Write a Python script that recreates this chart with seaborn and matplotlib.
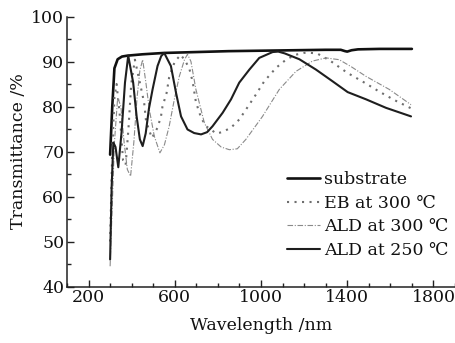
import matplotlib
matplotlib.use("Agg")
import matplotlib.pyplot as plt
import seaborn as sns
import pandas as pd
from matplotlib.ticker import MultipleLocator

# ---- data ----
sub_wl = [300, 310, 320, 335, 355, 380, 450, 550, 700, 850, 1000, 1150, 1300,
          1370, 1390, 1400, 1420, 1450, 1550, 1700]
sub_T = [69.3, 80, 88.5, 90.5, 91.1, 91.3, 91.6, 91.9, 92.1, 92.3, 92.4, 92.5, 92.6,
         92.6, 92.3, 92.2, 92.5, 92.7, 92.8, 92.8]

eb_wl = [300, 310, 320, 330, 345, 360, 372, 385, 398, 415, 438, 458, 466, 477, 494,
         520, 536, 543, 562, 574, 600, 628, 650, 667, 683, 698, 722, 745, 768, 791,
         820, 861, 899, 930, 977, 1015, 1070, 1116, 1160, 1209, 1260, 1320, 1400,
         1480, 1549, 1620, 1696]
eb_T = [50, 70, 82, 85, 78, 68, 67, 75, 85, 90.4, 85.3, 80.8, 77.1, 75.3, 73,
        75.3, 77.8, 80, 83, 86.5, 90, 91.5, 90, 88.5, 85.5, 81, 77.5, 75.6, 74.9, 74,
        74.3, 75.3, 77.1, 79.3, 82.7, 85.6, 88.6, 90.4, 91.5, 92, 91.8, 90.2, 87.5,
        85.3, 83.3, 81.4, 79.6]

a300_wl = [300, 310, 320, 335, 350, 365, 380, 395, 410, 425, 438, 451, 466, 482, 505,
           531, 552, 574, 598, 621, 645, 659, 675, 698, 737, 775, 815, 853, 890, 930,
           1007, 1085, 1162, 1239, 1302, 1363, 1420, 1487, 1595, 1696]
a300_T = [44.5, 58, 72, 82, 80, 72, 66, 64.5, 72, 82, 88, 90.4, 85.3, 79.3, 73.4,
          69.7, 71.5, 75.6, 81.6, 86.7, 90.4, 91.6, 90, 83.8, 76.4, 72.7, 71, 70.4,
          70.6, 72.7, 77.8, 83.8, 87.8, 90.1, 90.8, 90.4, 88.8, 86.7, 83.8, 80.4]

a250_wl = [300, 307, 315, 325, 338, 353, 369, 384, 407, 423, 438, 451, 465, 480, 497,
           520, 537, 551, 582, 606, 629, 659, 690, 722, 750, 775, 822, 861, 899, 946,
           992, 1054, 1080, 1110, 1178, 1255, 1332, 1402, 1487, 1580, 1696]
a250_T = [46, 62, 72, 71, 66.5, 74.2, 85.3, 91.3, 85.3, 77.8, 72.7, 71.2, 74, 79.5, 83.8,
          89, 91.2, 91.9, 89, 83, 77.8, 74.9, 74.1, 73.8, 74.3, 75.6, 78.6, 81.6, 85.3, 88.2,
          90.8, 92.1, 92.2, 91.8, 90.5, 88.2, 85.6, 83.2, 81.6, 79.7, 77.8]

labels = ["substrate", "EB at 300 \u2103", "ALD at 300 \u2103", "ALD at 250 \u2103"]
x_ticks = [200, 600, 1000, 1400, 1800]
y_ticks = [40, 50, 60, 70, 80, 90, 100]

sns.set_theme(style="ticks")
plt.rcParams["font.family"] = ["DejaVu Serif", "DejaVu Sans", "Noto Sans CJK SC"]
plt.rcParams["font.size"] = 12.5

fig = plt.figure(figsize=(4.56, 3.43), dpi=100)
ax = fig.add_axes([67 / 456, 56.5 / 343, 388 / 456, 270 / 343])

sns.lineplot(x=sub_wl, y=sub_T, ax=ax, color="#111111", lw=1.9, label=labels[0])
sns.lineplot(x=eb_wl, y=eb_T, ax=ax, color="#6e6e6e", lw=1.5,
             linestyle=(0, (1, 2.6)), label=labels[1])
sns.lineplot(x=a300_wl, y=a300_T, ax=ax, color="#8a8a8a", lw=0.8,
             linestyle=(0, (5, 1.5, 1, 1.5)), label=labels[2])
sns.lineplot(x=a250_wl, y=a250_T, ax=ax, color="#1e1e1e", lw=1.5, label=labels[3])

ax.set_xlim(100, 1900)
ax.set_ylim(40, 100)
ax.set_xticks(x_ticks)
ax.set_yticks(y_ticks)
ax.xaxis.set_minor_locator(MultipleLocator(100))
ax.yaxis.set_minor_locator(MultipleLocator(5))
ax.tick_params(which="major", direction="in", length=5, width=1, labelsize=12.5,
               color="#222222", labelcolor="#111111", pad=2)
ax.tick_params(which="minor", direction="in", length=3, width=1, color="#222222")
for s in ["top", "right"]:
    ax.spines[s].set_visible(False)
for s in ["left", "bottom"]:
    ax.spines[s].set_linewidth(1.1)
    ax.spines[s].set_color("#222222")

ax.set_xlabel("Wavelength /nm", fontsize=12.5, labelpad=8, color="#111111")
ax.set_ylabel("Transmittance /%", fontsize=12.5, labelpad=3, color="#111111")

leg = ax.legend(loc="upper left", bbox_to_anchor=(287 / 456, 1 - 171 / 343),
                bbox_transform=fig.transFigure, frameon=False, fontsize=12.5,
                handlelength=1.9, handletextpad=0.25, labelspacing=0.38,
                borderpad=0, borderaxespad=0)
for t in leg.get_texts():
    t.set_color("#111111")

fig.savefig("out.png", dpi=100)
